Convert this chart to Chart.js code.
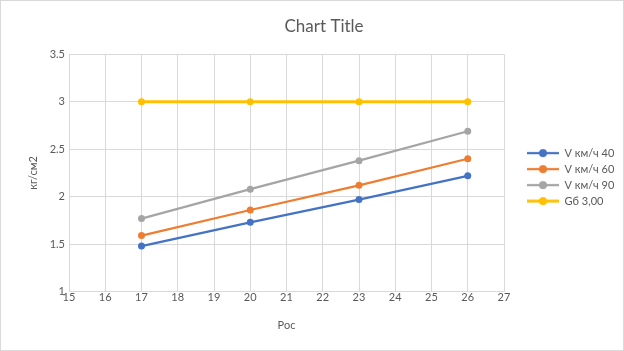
<!DOCTYPE html>
<html>
<head>
<meta charset="utf-8">
<script src="https://cdn.jsdelivr.net/npm/chart.js@4/dist/chart.umd.min.js"></script>
<style>
  body { margin: 0; background: #fff; }
  #wrap { width: 624px; height: 351px; box-sizing: border-box; border: 1px solid #d9d9d9; }
</style>
</head>
<body>
<div id="wrap"><canvas id="chart" width="622" height="349"></canvas></div>
<script>
const xValues = [17, 20, 23, 26];
const speed40 = [1.48, 1.73, 1.97, 2.22];
const speed60 = [1.59, 1.86, 2.12, 2.40];
const speed90 = [1.77, 2.08, 2.38, 2.69];
const limit300 = [3, 3, 3, 3];
const seriesNames = ["V км/ч 40", "V км/ч 60", "V км/ч 90", "Gб 3,00"];
const seriesColors = ["#4472c4", "#ed7d31", "#a5a5a5", "#ffc000"];

const font = "Lato, 'Open Sans', sans-serif";
const textColor = "#595959";
const gridColor = "#d9d9d9";

function legendMark(color, width) {
  const c = document.createElement("canvas");
  c.width = 32;
  c.height = 10;
  const g = c.getContext("2d");
  g.strokeStyle = color;
  g.lineWidth = width;
  g.beginPath();
  g.moveTo(0, 5);
  g.lineTo(32, 5);
  g.stroke();
  g.fillStyle = color;
  g.beginPath();
  g.arc(16, 5, 4, 0, Math.PI * 2);
  g.fill();
  return c;
}

function makeSet(i, values, width) {
  return {
    label: seriesNames[i],
    data: xValues.map((x, k) => ({ x: x, y: values[k] })),
    borderColor: seriesColors[i],
    backgroundColor: seriesColors[i],
    borderWidth: width,
    pointRadius: 3.5,
    pointBorderWidth: 0,
    pointStyle: "circle",
    tension: 0,
    yAxisID: "y",
    legendMark: legendMark(seriesColors[i], width),
  };
}

const ctx = document.getElementById("chart").getContext("2d");

new Chart(ctx, {
  type: "line",
  data: {
    datasets: [
      makeSet(0, speed40, 2.25),
      makeSet(1, speed60, 2.25),
      makeSet(2, speed90, 2.25),
      makeSet(3, limit300, 3),
    ],
  },
  options: {
    responsive: false,
    animation: false,
    layout: {
      padding: { left: 26, right: 2, top: 8, bottom: 18 },
    },
    plugins: {
      title: {
        display: true,
        text: "Chart Title",
        color: textColor,
        font: { family: font, size: 17, weight: "normal" },
        padding: { top: 7, bottom: 18 },
      },
      legend: {
        position: "right",
        title: {
          display: true,
          text: "",
          font: { family: font, size: 11 },
          padding: 0,
        },
        labels: {
          color: textColor,
          font: { family: font, size: 11 },
          usePointStyle: true,
          pointStyleWidth: 32,
          padding: 5,
          generateLabels: (chart) =>
            chart.data.datasets.map((ds, i) => ({
              text: ds.label,
              pointStyle: ds.legendMark,
              fillStyle: ds.borderColor,
              strokeStyle: ds.borderColor,
              lineWidth: 0,
              fontColor: textColor,
              datasetIndex: i,
              hidden: false,
            })),
        },
      },
      tooltip: { enabled: false },
    },
    scales: {
      x: {
        type: "linear",
        min: 15,
        max: 27,
        ticks: {
          stepSize: 1,
          color: textColor,
          font: { family: font, size: 11 },
          padding: -1,
        },
        grid: { color: gridColor, drawTicks: false },
        border: { color: gridColor },
        title: {
          display: true,
          text: "Рос",
          color: textColor,
          font: { family: font, size: 11 },
          padding: { top: 16, bottom: 0 },
        },
      },
      y: {
        min: 1,
        max: 3.5,
        ticks: {
          stepSize: 0.5,
          color: textColor,
          font: { family: font, size: 11 },
          padding: 4,
          callback: (v) => String(v),
        },
        grid: { color: gridColor, drawTicks: false },
        border: { color: gridColor },
        title: {
          display: true,
          text: "кг/см2",
          color: textColor,
          font: { family: font, size: 11 },
          padding: { top: 0, bottom: 10 },
        },
        afterFit: (scale) => {
          scale.width = 42;
        },
      },
      gap: {
        position: "right",
        min: 0,
        max: 1,
        ticks: { display: false },
        grid: { display: false, drawTicks: false },
        border: { display: false },
        afterFit: (scale) => {
          scale.width = 18;
        },
      },
    },
  },
});
</script>
</body>
</html>
